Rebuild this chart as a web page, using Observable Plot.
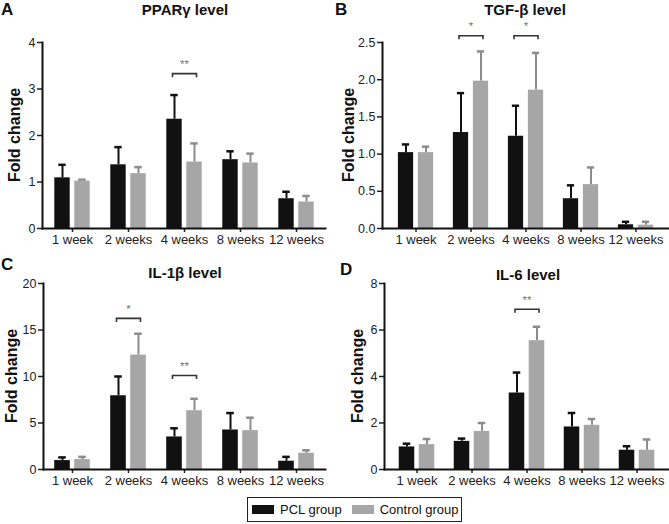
<!DOCTYPE html>
<html><head><meta charset="utf-8">
<script src="https://cdn.jsdelivr.net/npm/d3@7"></script>
<script src="https://cdn.jsdelivr.net/npm/@observablehq/plot@0.6"></script>
<style>
body{margin:0;background:#fff;font-family:"Liberation Sans",Arial,sans-serif;color:#111;}
#root{position:relative;width:669px;height:524px;overflow:hidden;background:#fff;}
.abs{position:absolute;line-height:1;}
.letter{font-weight:bold;font-size:17px;}
.title{font-weight:bold;font-size:15px;transform:translateX(-50%);white-space:nowrap;}
.ylab{font-weight:bold;font-size:16px;transform:translate(-50%,-50%) rotate(-90deg);white-space:nowrap;}
.legend{display:flex;align-items:center;border:1px solid #222;box-sizing:border-box;font-size:13px;}
.sw{display:inline-block;width:22px;height:9px;}
</style></head>
<body><div id="root"></div>
<script>
const weeks = ["1 week", "2 weeks", "4 weeks", "8 weeks", "12 weeks"];
const groups = ["PCL group", "Control group"];
const colors = ["#111111", "#a6a6a6"];
const errColors = ["#111111", "#8c8c8c"];

// A: PPARγ
const pparPCL = [1.09, 1.37, 2.35, 1.48, 0.64];
const pparPCLsd = [0.28, 0.38, 0.52, 0.18, 0.15];
const pparCtrl = [1.02, 1.18, 1.43, 1.41, 0.57];
const pparCtrlSd = [0.03, 0.14, 0.40, 0.20, 0.13];
const pparSig = [{week: "4 weeks", y: 3.33, label: "**"}];
const pparTicks = [0, 1, 2, 3, 4];

// B: TGF-β
const tgfPCL = [1.02, 1.29, 1.24, 0.40, 0.05];
const tgfPCLsd = [0.11, 0.53, 0.41, 0.18, 0.04];
const tgfCtrl = [1.02, 1.98, 1.86, 0.59, 0.045];
const tgfCtrlSd = [0.08, 0.40, 0.50, 0.23, 0.045];
const tgfSig = [{week: "2 weeks", y: 2.59, label: "*"}, {week: "4 weeks", y: 2.59, label: "*"}];
const tgfTicks = [0, 0.5, 1.0, 1.5, 2.0, 2.5];

// C: IL-1β
const il1PCL = [0.96, 7.93, 3.5, 4.25, 0.89];
const il1PCLsd = [0.34, 2.07, 0.93, 1.82, 0.47];
const il1Ctrl = [1.07, 12.3, 6.32, 4.18, 1.75];
const il1CtrlSd = [0.29, 2.3, 1.28, 1.39, 0.32];
const il1Sig = [{week: "2 weeks", y: 16.25, label: "*"}, {week: "4 weeks", y: 10.1, label: "**"}];
const il1Ticks = [0, 5, 10, 15, 20];

// D: IL-6
const il6PCL = [0.97, 1.21, 3.29, 1.83, 0.83];
const il6PCLsd = [0.14, 0.12, 0.88, 0.60, 0.17];
const il6Ctrl = [1.07, 1.64, 5.54, 1.90, 0.83];
const il6CtrlSd = [0.24, 0.36, 0.60, 0.27, 0.46];
const il6Sig = [{week: "4 weeks", y: 6.89, label: "**"}];
const il6Ticks = [0, 2, 4, 6, 8];

const root = document.getElementById("root");

function addDiv(cls, text, css) {
  const d = document.createElement("div");
  d.className = "abs " + cls;
  if (text != null) d.textContent = text;
  Object.assign(d.style, css);
  root.appendChild(d);
  return d;
}

const bracketSymbol = {
  draw(context) {
    const w = 12, h = 3.5;
    context.moveTo(-w, h);
    context.lineTo(-w, 0);
    context.lineTo(w, 0);
    context.lineTo(w, h);
  }
};

function panel(o) {
  const rows = [];
  weeks.forEach((w, i) => {
    rows.push({week: w, group: groups[0], value: o.pcl[i], top: o.pcl[i] + o.pclSd[i]});
    rows.push({week: w, group: groups[1], value: o.ctrl[i], top: o.ctrl[i] + o.ctrlSd[i]});
  });
  const inner = o.width - o.mL - o.mR;
  const bw = inner / (weeks.length + 2 * o.po);
  const barW = 16, capW = 8, off = 10;
  const barInset = (bw - barW) / 2;
  const capInset = (bw - capW) / 2;
  const marks = [];
  groups.forEach((g, gi) => {
    const sub = rows.filter(r => r.group === g);
    const dx = gi === 0 ? -off : off;
    marks.push(Plot.ruleX(sub, {x: "week", y1: "value", y2: "top", dx, stroke: errColors[gi], strokeWidth: 2}));
    marks.push(Plot.tickY(sub, {x: "week", y: "top", dx, insetLeft: capInset, insetRight: capInset, stroke: errColors[gi], strokeWidth: 2.5}));
    marks.push(Plot.barY(sub, {x: "week", y: "value", dx, insetLeft: barInset, insetRight: barInset, fill: colors[gi]}));
  });
  marks.push(Plot.dot(o.sig, {x: "week", y: "y", symbol: bracketSymbol, r: 5, fill: "none", stroke: "#333", strokeWidth: 1.6}));
  marks.push(Plot.text(o.sig, {x: "week", y: "y", text: "label", dy: -9, fontSize: 11.5, fill: "#777"}));
  marks.push(Plot.axisY({ticks: o.ticks, tickFormat: o.fmt, tickSize: 5, tickPadding: 2, fontSize: 12.5, label: null, strokeWidth: 1.5, color: "#222"}));
  marks.push(Plot.axisX({tickSize: 4, tickPadding: 2, fontSize: 13, label: null, strokeWidth: 1.5, color: "#222"}));
  marks.push(Plot.frame({anchor: "left", stroke: "#111", strokeWidth: 2}));
  marks.push(Plot.frame({anchor: "bottom", stroke: "#111", strokeWidth: 2}));
  const svg = Plot.plot({
    width: o.width, height: o.height,
    marginLeft: o.mL, marginRight: o.mR, marginTop: o.mT, marginBottom: o.mB,
    style: {fontFamily: '"Liberation Sans", Arial, sans-serif', background: "transparent", overflow: "visible"},
    x: {type: "band", domain: weeks, paddingInner: 0, paddingOuter: o.po},
    y: {domain: o.yDomain},
    marks
  });
  const holder = addDiv("", null, {left: o.left + "px", top: o.top + "px"});
  holder.appendChild(svg);
  addDiv("letter", o.letter, {left: o.letterX + "px", top: (o.letterBase - 0.847 * 17) + "px"});
  addDiv("title", o.title, {left: o.titleX + "px", top: (o.titleBase - 0.847 * 15) + "px"});
  addDiv("ylab", "Fold change", {left: o.ylabX + "px", top: o.ylabY + "px"});
}

panel({letter: "A", title: "PPARγ level", left: 0, top: 20, width: 335, height: 230, mL: 42, mR: 10, mT: 22, mB: 22, po: 0,
  yDomain: [0, 4], ticks: pparTicks, fmt: d3.format("d"),
  pcl: pparPCL, pclSd: pparPCLsd, ctrl: pparCtrl, ctrlSd: pparCtrlSd, sig: pparSig,
  letterX: 1, letterBase: 15, titleX: 185, titleBase: 15, ylabX: 15, ylabY: 135});

panel({letter: "B", title: "TGF-β level", left: 335, top: 20, width: 334, height: 230, mL: 47, mR: 1, mT: 22, mB: 22, po: 0.065,
  yDomain: [0, 2.5], ticks: tgfTicks, fmt: d3.format(".1f"),
  pcl: tgfPCL, pclSd: tgfPCLsd, ctrl: tgfCtrl, ctrlSd: tgfCtrlSd, sig: tgfSig,
  letterX: 335, letterBase: 15, titleX: 525, titleBase: 15, ylabX: 349, ylabY: 135});

panel({letter: "C", title: "IL-1β level", left: 0, top: 275, width: 335, height: 215, mL: 43, mR: 10, mT: 8, mB: 21, po: 0,
  yDomain: [0, 20], ticks: il1Ticks, fmt: d3.format("d"),
  pcl: il1PCL, pclSd: il1PCLsd, ctrl: il1Ctrl, ctrlSd: il1CtrlSd, sig: il1Sig,
  letterX: 1, letterBase: 270, titleX: 185, titleBase: 278, ylabX: 12, ylabY: 376});

panel({letter: "D", title: "IL-6 level", left: 335, top: 275, width: 334, height: 215, mL: 49, mR: 1, mT: 8, mB: 21, po: 0.06,
  yDomain: [0, 8], ticks: il6Ticks, fmt: d3.format("d"),
  pcl: il6PCL, pclSd: il6PCLsd, ctrl: il6Ctrl, ctrlSd: il6CtrlSd, sig: il6Sig,
  letterX: 340, letterBase: 275, titleX: 528, titleBase: 280, ylabX: 358, ylabY: 376});

// legend
const lg = addDiv("legend", null, {left: "247px", top: "497px", width: "215px", height: "25px", paddingLeft: "4px"});
groups.forEach((g, i) => {
  const sw = document.createElement("span");
  sw.className = "sw";
  sw.style.background = colors[i];
  sw.style.marginRight = "6px";
  sw.style.marginLeft = i === 0 ? "0px" : "10px";
  lg.appendChild(sw);
  const t = document.createElement("span");
  t.textContent = g;
  lg.appendChild(t);
});
</script>
</body></html>
